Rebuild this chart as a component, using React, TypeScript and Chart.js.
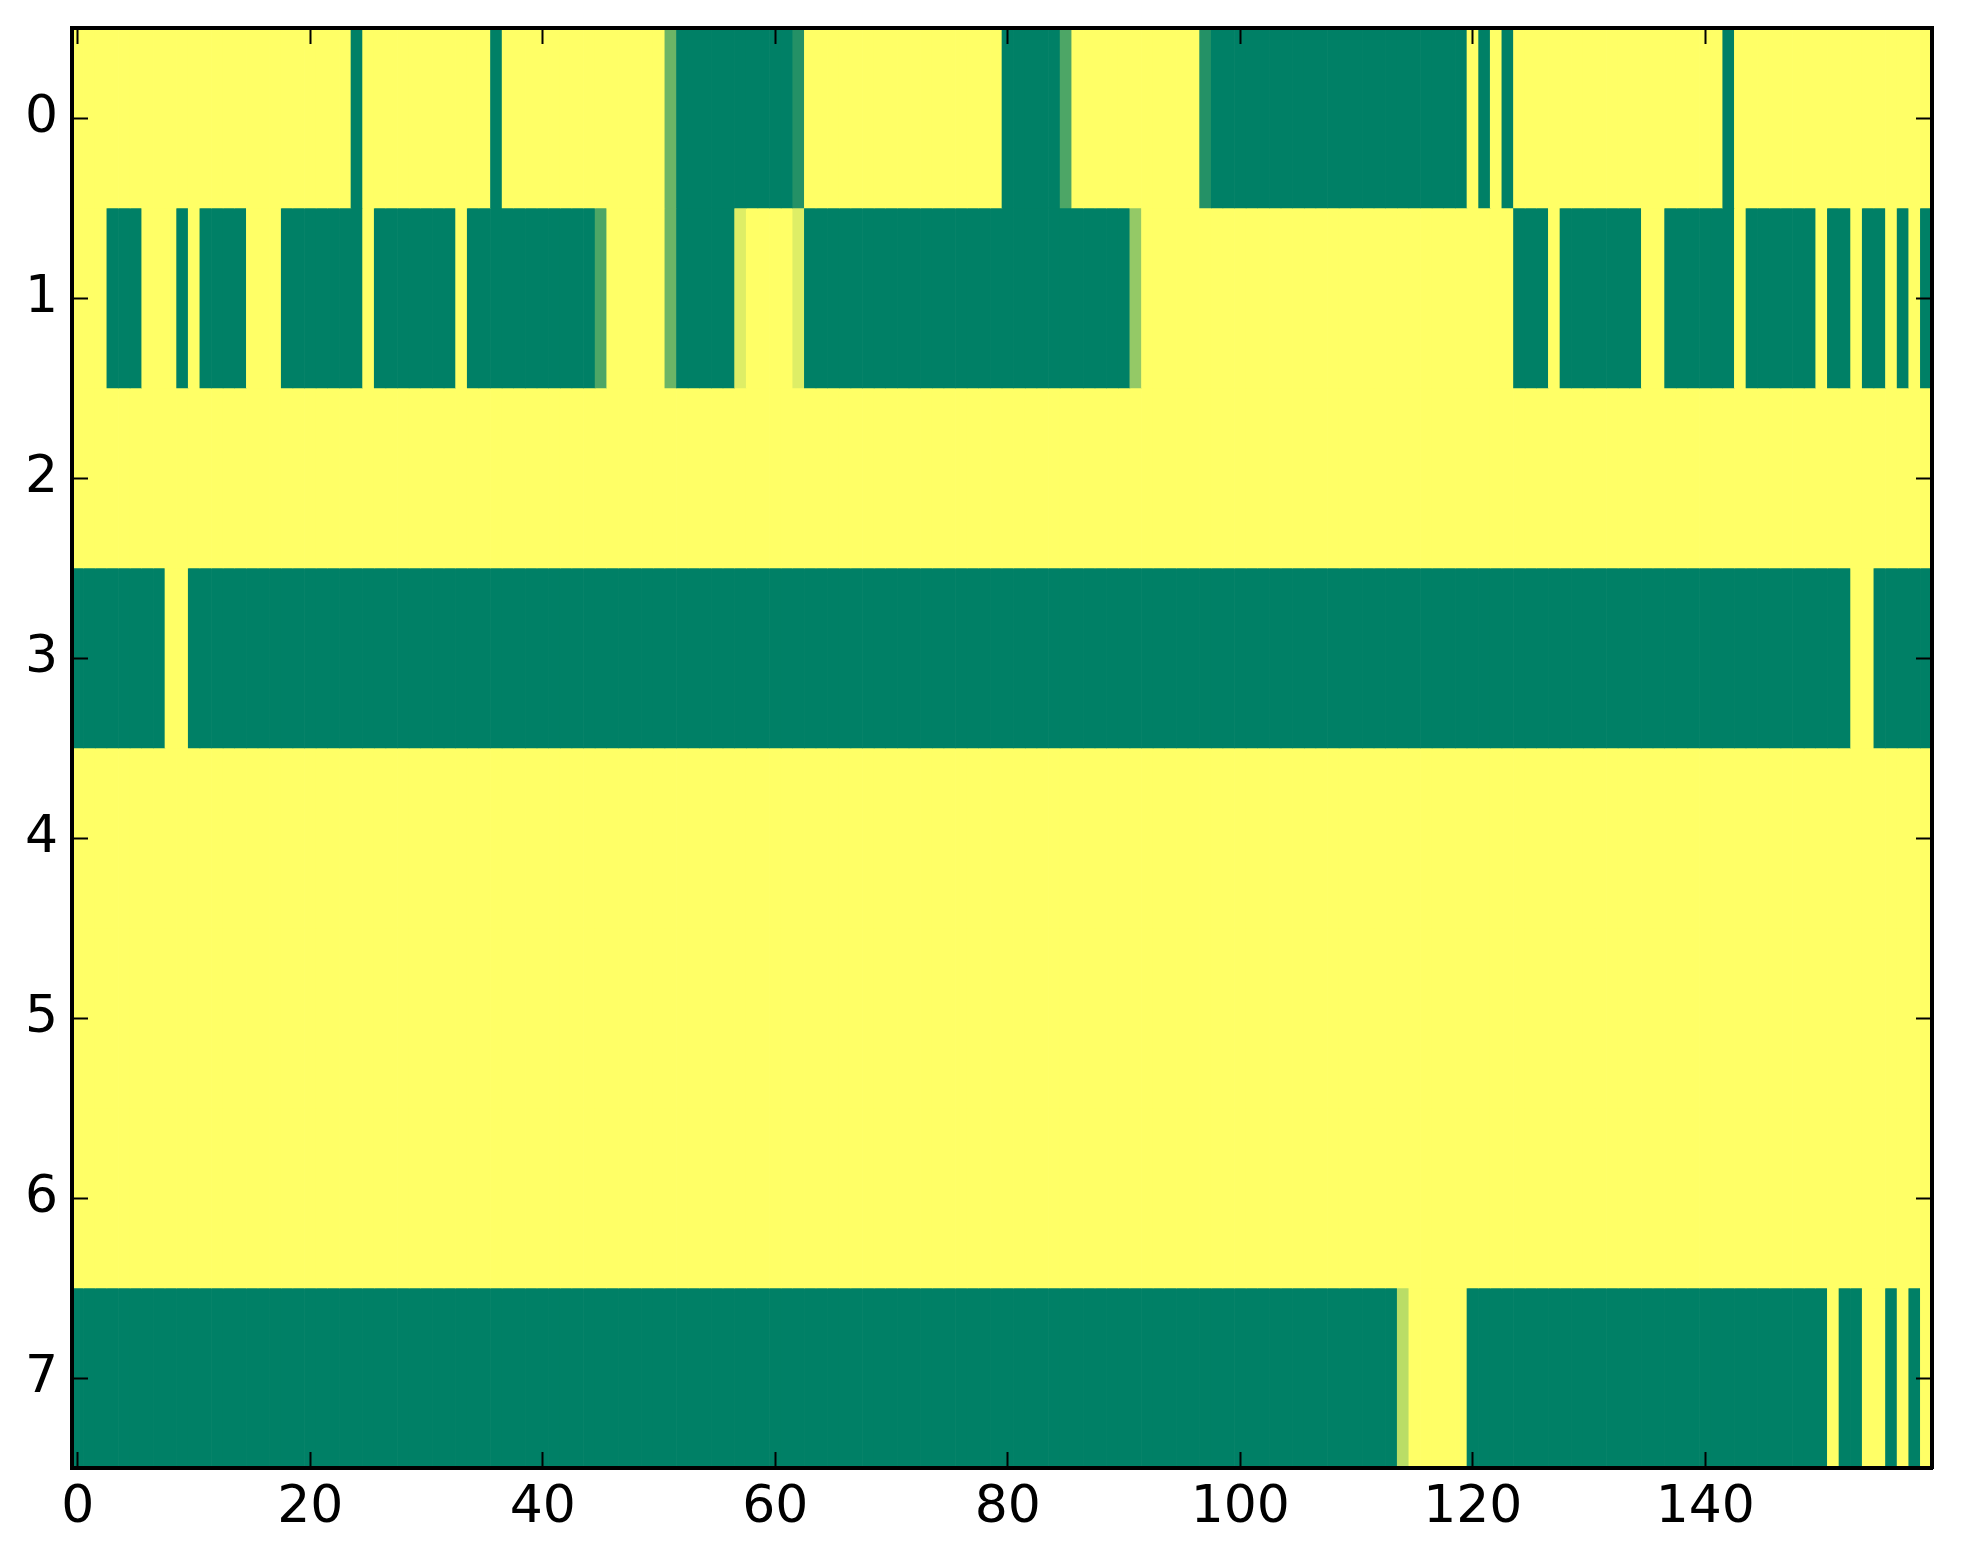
import React, { useEffect, useRef } from "react";
import { Chart, registerables } from "chart.js";

Chart.register(...registerables);

const rowLabels = ["0", "1", "2", "3", "4", "5", "6", "7"];
const xTickValues = [0, 20, 40, 60, 80, 100, 120, 140];
const yTickValues = [0, 1, 2, 3, 4, 5, 6, 7];

const row0 = [
  1,1,1,1,1,1,1,1,1,1,1,1,1,1,1,1,1,1,1,1,
  1,1,1,1,0,1,1,1,1,1,1,1,1,1,1,1,0,1,1,1,
  1,1,1,1,1,1,1,1,1,1,1,.42,0,0,0,0,0,0,0,0,
  0,0,.14,1,1,1,1,1,1,1,1,1,1,1,1,1,1,1,1,1,
  0,0,0,0,0,.3,1,1,1,1,1,1,1,1,1,1,1,.14,0,0,
  0,0,0,0,0,0,0,0,0,0,0,0,0,0,0,0,0,0,0,0,
  1,0,1,0,1,1,1,1,1,1,1,1,1,1,1,1,1,1,1,1,
  1,1,0,1,1,1,1,1,1,1,1,1,1,1,1,1,1,1,1,1,
];
const row1 = [
  1,1,1,0,0,0,1,1,1,0,1,0,0,0,0,1,1,1,0,0,
  0,0,0,0,0,1,0,0,0,0,0,0,0,1,0,0,0,0,0,0,
  0,0,0,0,0,.3,1,1,1,1,1,.42,0,0,0,0,0,.87,1,1,
  1,1,.87,0,0,0,0,0,0,0,0,0,0,0,0,0,0,0,0,0,
  0,0,0,0,0,0,0,0,0,0,0,.58,1,1,1,1,1,1,1,1,
  1,1,1,1,1,1,1,1,1,1,1,1,1,1,1,1,1,1,1,1,
  1,1,1,1,0,0,0,1,0,0,0,0,0,0,0,1,1,0,0,0,
  0,0,0,1,0,0,0,0,0,0,1,0,0,1,0,0,1,0,1,0,
];
const row2 = [
  1,1,1,1,1,1,1,1,1,1,1,1,1,1,1,1,1,1,1,1,
  1,1,1,1,1,1,1,1,1,1,1,1,1,1,1,1,1,1,1,1,
  1,1,1,1,1,1,1,1,1,1,1,1,1,1,1,1,1,1,1,1,
  1,1,1,1,1,1,1,1,1,1,1,1,1,1,1,1,1,1,1,1,
  1,1,1,1,1,1,1,1,1,1,1,1,1,1,1,1,1,1,1,1,
  1,1,1,1,1,1,1,1,1,1,1,1,1,1,1,1,1,1,1,1,
  1,1,1,1,1,1,1,1,1,1,1,1,1,1,1,1,1,1,1,1,
  1,1,1,1,1,1,1,1,1,1,1,1,1,1,1,1,1,1,1,1,
];
const row3 = [
  0,0,0,0,0,0,0,0,1,1,0,0,0,0,0,0,0,0,0,0,
  0,0,0,0,0,0,0,0,0,0,0,0,0,0,0,0,0,0,0,0,
  0,0,0,0,0,0,0,0,0,0,0,0,0,0,0,0,0,0,0,0,
  0,0,0,0,0,0,0,0,0,0,0,0,0,0,0,0,0,0,0,0,
  0,0,0,0,0,0,0,0,0,0,0,0,0,0,0,0,0,0,0,0,
  0,0,0,0,0,0,0,0,0,0,0,0,0,0,0,0,0,0,0,0,
  0,0,0,0,0,0,0,0,0,0,0,0,0,0,0,0,0,0,0,0,
  0,0,0,0,0,0,0,0,0,0,0,0,0,1,1,0,0,0,0,0,
];
const row4 = [
  1,1,1,1,1,1,1,1,1,1,1,1,1,1,1,1,1,1,1,1,
  1,1,1,1,1,1,1,1,1,1,1,1,1,1,1,1,1,1,1,1,
  1,1,1,1,1,1,1,1,1,1,1,1,1,1,1,1,1,1,1,1,
  1,1,1,1,1,1,1,1,1,1,1,1,1,1,1,1,1,1,1,1,
  1,1,1,1,1,1,1,1,1,1,1,1,1,1,1,1,1,1,1,1,
  1,1,1,1,1,1,1,1,1,1,1,1,1,1,1,1,1,1,1,1,
  1,1,1,1,1,1,1,1,1,1,1,1,1,1,1,1,1,1,1,1,
  1,1,1,1,1,1,1,1,1,1,1,1,1,1,1,1,1,1,1,1,
];
const row5 = [
  1,1,1,1,1,1,1,1,1,1,1,1,1,1,1,1,1,1,1,1,
  1,1,1,1,1,1,1,1,1,1,1,1,1,1,1,1,1,1,1,1,
  1,1,1,1,1,1,1,1,1,1,1,1,1,1,1,1,1,1,1,1,
  1,1,1,1,1,1,1,1,1,1,1,1,1,1,1,1,1,1,1,1,
  1,1,1,1,1,1,1,1,1,1,1,1,1,1,1,1,1,1,1,1,
  1,1,1,1,1,1,1,1,1,1,1,1,1,1,1,1,1,1,1,1,
  1,1,1,1,1,1,1,1,1,1,1,1,1,1,1,1,1,1,1,1,
  1,1,1,1,1,1,1,1,1,1,1,1,1,1,1,1,1,1,1,1,
];
const row6 = [
  1,1,1,1,1,1,1,1,1,1,1,1,1,1,1,1,1,1,1,1,
  1,1,1,1,1,1,1,1,1,1,1,1,1,1,1,1,1,1,1,1,
  1,1,1,1,1,1,1,1,1,1,1,1,1,1,1,1,1,1,1,1,
  1,1,1,1,1,1,1,1,1,1,1,1,1,1,1,1,1,1,1,1,
  1,1,1,1,1,1,1,1,1,1,1,1,1,1,1,1,1,1,1,1,
  1,1,1,1,1,1,1,1,1,1,1,1,1,1,1,1,1,1,1,1,
  1,1,1,1,1,1,1,1,1,1,1,1,1,1,1,1,1,1,1,1,
  1,1,1,1,1,1,1,1,1,1,1,1,1,1,1,1,1,1,1,1,
];
const row7 = [
  0,0,0,0,0,0,0,0,0,0,0,0,0,0,0,0,0,0,0,0,
  0,0,0,0,0,0,0,0,0,0,0,0,0,0,0,0,0,0,0,0,
  0,0,0,0,0,0,0,0,0,0,0,0,0,0,0,0,0,0,0,0,
  0,0,0,0,0,0,0,0,0,0,0,0,0,0,0,0,0,0,0,0,
  0,0,0,0,0,0,0,0,0,0,0,0,0,0,0,0,0,0,0,0,
  0,0,0,0,0,0,0,0,0,0,0,0,0,0,.73,1,1,1,1,1,
  0,0,0,0,0,0,0,0,0,0,0,0,0,0,0,0,0,0,0,0,
  0,0,0,0,0,0,0,0,0,0,0,1,0,0,1,1,0,1,0,1,
];

const rows = [row0, row1, row2, row3, row4, row5, row6, row7];

// matplotlib "summer" colormap
function summer(v: number): string {
  const r = Math.round(255 * v);
  const g = Math.round(255 * (0.5 + 0.5 * v));
  const b = 102;
  return `rgb(${r},${g},${b})`;
}

const FONT = { family: "'DejaVu Sans', sans-serif", size: 52 };
const TICK_LEN = -16;

function zeroPad(s: any) {
  s.paddingTop = 0;
  s.paddingBottom = 0;
  s.paddingLeft = 0;
  s.paddingRight = 0;
}

export default function App() {
  const canvasRef = useRef<HTMLCanvasElement | null>(null);

  useEffect(() => {
    const canvas = canvasRef.current;
    if (!canvas) return;

    const datasets = rows.map((vals, r) => ({
      label: rowLabels[r],
      data: vals.map((_v, i) => ({ x: i, y: [r - 0.5, r + 0.5] })),
      backgroundColor: vals.map(summer),
      borderWidth: 0,
      barPercentage: 1,
      categoryPercentage: 1,
      grouped: false,
    }));

    const gridOpts = {
      drawOnChartArea: false,
      drawTicks: true,
      tickLength: TICK_LEN,
      tickWidth: 2,
      tickColor: "#000",
      offset: false,
      z: 2,
    };
    const borderOpts = { display: true, color: "#000", width: 4, z: 3 };

    const chart = new Chart(canvas, {
      type: "bar",
      data: { datasets: datasets as any },
      options: {
        animation: false,
        responsive: true,
        maintainAspectRatio: false,
        events: [],
        layout: { padding: { top: 28, right: 31, left: 0, bottom: 0 } },
        plugins: {
          legend: { display: false },
          tooltip: { enabled: false },
          title: { display: false },
        },
        scales: {
          x: {
            type: "linear",
            position: "bottom",
            offset: false,
            min: -0.5,
            max: 159.5,
            afterBuildTicks: (s: any) => {
              s.ticks = xTickValues.map((v) => ({ value: v }));
            },
            afterFit: (s: any) => {
              s.height = 96;
              zeroPad(s);
            },
            grid: gridOpts,
            border: borderOpts,
            ticks: {
              font: FONT,
              color: "#000",
              padding: 25,
              maxRotation: 0,
              autoSkip: false,
            },
          },
          x2: {
            type: "linear",
            position: "top",
            offset: false,
            min: -0.5,
            max: 159.5,
            afterBuildTicks: (s: any) => {
              s.ticks = xTickValues.map((v) => ({ value: v }));
            },
            afterFit: (s: any) => {
              s.height = 0;
              zeroPad(s);
            },
            grid: gridOpts,
            border: borderOpts,
            ticks: { display: false },
          },
          y: {
            type: "linear",
            position: "left",
            offset: false,
            reverse: true,
            min: -0.5,
            max: 7.5,
            afterBuildTicks: (s: any) => {
              s.ticks = yTickValues.map((v) => ({ value: v }));
            },
            afterFit: (s: any) => {
              s.width = 72;
              zeroPad(s);
            },
            grid: gridOpts,
            border: borderOpts,
            ticks: {
              font: FONT,
              color: "#000",
              padding: 30,
              autoSkip: false,
            },
          },
          y2: {
            type: "linear",
            position: "right",
            offset: false,
            reverse: true,
            min: -0.5,
            max: 7.5,
            afterBuildTicks: (s: any) => {
              s.ticks = yTickValues.map((v) => ({ value: v }));
            },
            afterFit: (s: any) => {
              s.width = 0;
              zeroPad(s);
            },
            grid: gridOpts,
            border: borderOpts,
            ticks: { display: false },
          },
        },
      } as any,
    });

    return () => chart.destroy();
  }, []);

  return (
    <div
      style={{
        position: "fixed",
        left: 0,
        top: 0,
        width: "1963px",
        height: "1564px",
        background: "#fff",
      }}
    >
      <canvas ref={canvasRef} />
    </div>
  );
}
